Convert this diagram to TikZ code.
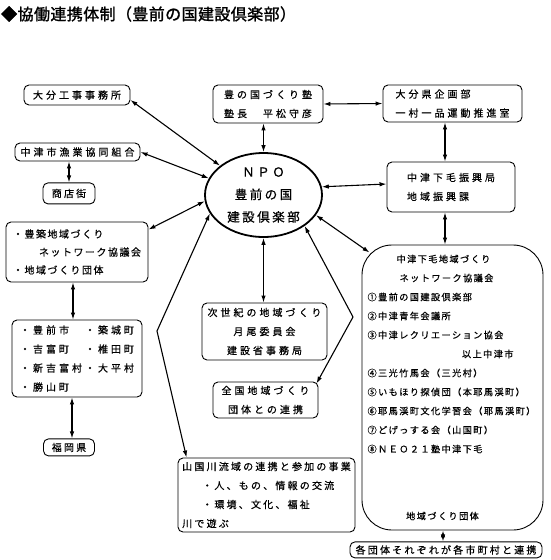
\documentclass[tikz,border=0pt]{standalone}
\usepackage{fontspec}
\usepackage{tikz}
\usetikzlibrary{arrows.meta,positioning,shapes.geometric}
\newfontfamily\jp[LetterSpace=30,FakeBold=0.5]{Noto Sans CJK JP}
\newfontfamily\jpmid[LetterSpace=22,FakeBold=0.5]{Noto Sans CJK JP}
\newfontfamily\jpnarrow[LetterSpace=15,FakeBold=0.5]{Noto Sans CJK JP}
\newfontfamily\jphub[LetterSpace=20,FakeBold=0.8]{Noto Sans CJK JP}
\newfontfamily\jptitle[LetterSpace=2.5,FakeBold=1.5]{Noto Sans CJK JP}

\begin{document}
\begin{tikzpicture}[
  x=1pt,y=-1pt,
  box/.style={draw,line width=0.9pt,rounded corners=5pt,inner sep=0pt,align=center,
              font=\jp\fontsize{10}{19}\selectfont},
  midbox/.style={box,font=\jpmid\fontsize{10}{19}\selectfont},
  hub/.style={ellipse,draw,line width=1.8pt,inner sep=0pt,align=center,
              minimum width=117pt,minimum height=84pt,font=\jphub\fontsize{12.5}{22.5}\selectfont},
  bigbox/.style={box,rounded corners=30pt,align=left,text width=170pt,
                 font=\jpnarrow\fontsize{9.2}{19}\selectfont},
  arr/.style={{Latex[length=7pt,width=4.5pt]}-{Latex[length=7pt,width=4.5pt]},line width=1.1pt}
]
\useasboundingbox (0,0) rectangle (550,560);

\node[anchor=west,inner sep=0pt,font=\jptitle\fontsize{16}{18}\selectfont] (title) at (1,14)
  {◆協働連携体制（豊前の国建設倶楽部）};

% top row
\node[box,minimum width=106pt,minimum height=20pt] (ooita) at (77,95) {大分工事事務所};
\node[box,minimum width=110pt,minimum height=38pt] (juku) at (268,104) {豊の国づくり塾\\塾長　平松守彦};
\node[box,align=left,minimum width=139pt,minimum height=37pt] (kikaku) at (452.5,103.5)
  {大分県企画部\\一村一品運動推進室};

% left column
\node[box,minimum width=125pt,minimum height=18pt] (gyokyo) at (77.5,152) {中津市漁業協同組合};
\node[midbox,minimum width=52pt,minimum height=21pt,below=21pt of gyokyo,xshift=-8.5pt] (shoten) {商店街};
\node[box,align=left,minimum width=142pt,minimum height=60pt,font=\jpnarrow\fontsize{10}{18}\selectfont]
  (houchiku) at (77,252) {・豊築地域づくり\\\hspace*{26pt}ネットワーク協議会\\・地域づくり団体};
\node[box,align=left,minimum width=130pt,minimum height=77pt] (shichoson) at (77,358.5)
  {\makebox[65pt][l]{・豊前市}・築城町\\
   \makebox[65pt][l]{・吉富町}・椎田町\\
   \makebox[65pt][l]{・新吉富村}・大平村\\
   \makebox[65pt][l]{・勝山町}};
\node[midbox,minimum width=51pt,minimum height=17pt,below=41pt of shichoson,xshift=-8pt] (fukuoka) {福岡県};

% centre
\node[hub] (npo) at (263.5,195) {ＮＰＯ\\豊前の国\\建設倶楽部};
\node[box,minimum width=125pt,minimum height=57pt] (jisedai) at (264.5,331.5)
  {次世紀の地域づくり\\月尾委員会\\建設省事務局};
\node[box,minimum width=105pt,minimum height=36pt] (zenkoku) at (265.5,400) {全国地域づくり\\団体との連携};
\node[midbox,align=left,minimum width=177pt,minimum height=74pt] (yamakuni) at (266.5,495)
  {山国川流域の連携と参加の事業\\
   \hspace*{20pt}・人、もの、情報の交流\\
   \hspace*{20pt}・環境、文化、福祉\\
   川で遊ぶ};

% right column
\node[box,align=left,minimum width=128pt,minimum height=50pt] (shinko) at (451,187)
  {中津下毛振興局\\地域振興課};
\node[bigbox,minimum width=181pt,minimum height=285pt] (shimoge) at (452.5,387.5)
  {\makebox[170pt]{中津下毛地域づくり\hspace*{18pt}}\\
   \makebox[170pt]{ネットワーク協議会\hspace*{12pt}}\\
   ①豊前の国建設倶楽部\\
   ②中津青年会議所\\
   ③中津レクリエーション協会\\
   \makebox[170pt][r]{以上中津市\hspace*{24pt}}\\
   ④三光竹馬会（三光村）\\
   ⑤いもほり探偵団（本耶馬渓町）\\
   ⑥耶馬渓町文化学習会（耶馬渓町）\\
   ⑦どげっする会（山国町）\\
   ⑧ＮＥＯ２１塾中津下毛\\[48pt]
   \makebox[170pt]{地域づくり団体\hspace*{20pt}}};
\node[midbox,minimum width=192pt,minimum height=16pt,below=11pt of shimoge,xshift=-6.5pt] (kakudantai)
  {各団体それぞれが各市町村と連携};

\coordinate (bendL) at (157,331);
\coordinate (bendR) at (353,317);

\draw[arr] ([yshift=-5pt]ooita.east) -- (npo.146);
\draw[arr] (juku.south -| npo.north) -- (npo.north);
\draw[arr] (juku.east) -- (kikaku.west);
\draw[arr] ([xshift=-7.5pt]kikaku.south) -- ([xshift=-6pt]shinko.north);
\draw[arr] ([yshift=3pt]shinko.west) -- (npo.8);
\draw[arr] ([xshift=-6pt]shinko.south) -- ([xshift=-7.5pt]shimoge.north);
\draw[arr] (gyokyo.east) -- (npo.163);
\draw[arr] (gyokyo.south -| shoten.north) -- (shoten.north);
\draw[arr] ([yshift=-8pt]houchiku.north east) -- (npo.186);
\draw[arr] ([xshift=-4pt]houchiku.south) -- ([xshift=-4pt]shichoson.north);
\draw[arr] ([xshift=-5pt]shichoson.south) -- ([xshift=3pt]fukuoka.north);
\draw[arr] (npo.199) -- (bendL) -- ([xshift=9pt]yamakuni.north west);
\draw[arr] (npo.south) -- (npo.south |- jisedai.north);
\draw[arr] (npo.-37) -- (bendR) -- ([shift={(-2pt,-2pt)}]zenkoku.north east);
\draw[arr] (npo.-21) -- ([shift={(8pt,-8pt)}]shimoge.north west);
\draw[arr] ([xshift=-9.5pt]shimoge.south) -- ([xshift=-3pt]kakudantai.north);
\end{tikzpicture}
\end{document}
